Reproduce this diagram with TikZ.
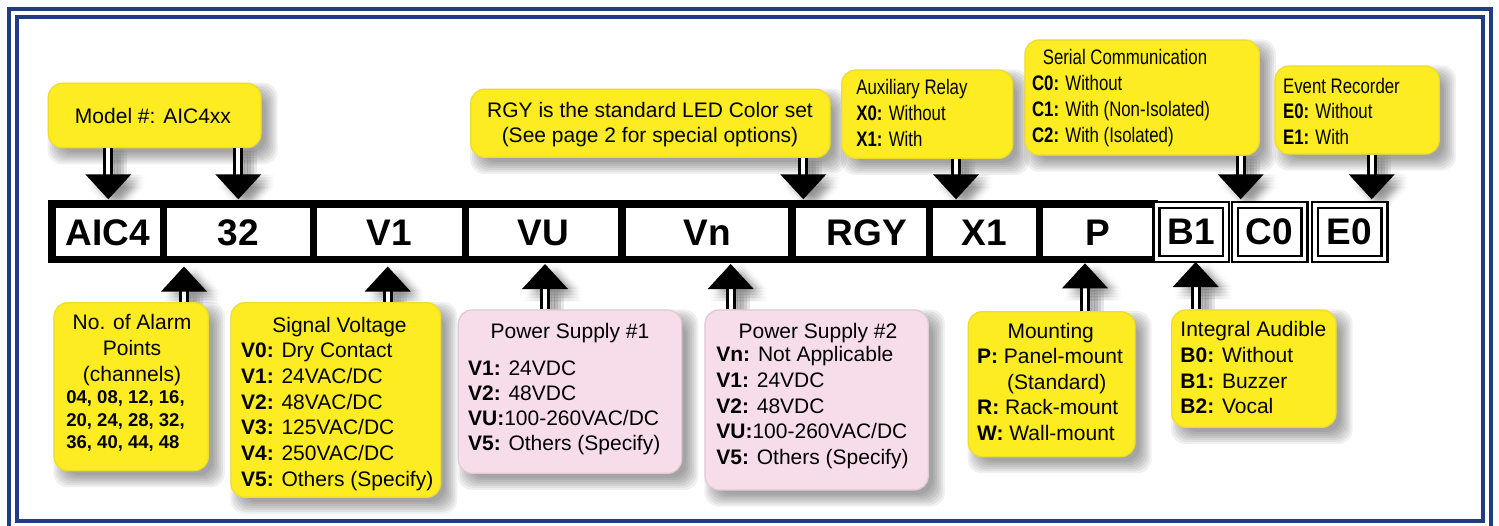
\documentclass[tikz,border=0pt]{standalone}
\usepackage{fontspec}
\setmainfont{Liberation Sans}
\newfontfamily\narrowfont[FakeStretch=0.8]{Liberation Sans}
\usetikzlibrary{calc,fit}
\definecolor{frameblue}{RGB}{31,61,128}
\definecolor{cyellow}{RGB}{253,236,33}
\definecolor{cyellowedge}{RGB}{238,220,45}
\definecolor{cpink}{RGB}{246,221,233}
\definecolor{cpinkedge}{RGB}{224,200,213}
\pgfdeclarelayer{paper}
\pgfdeclarelayer{bg}
\pgfsetlayers{paper,bg,main}
\tikzset{
  ybox/.style={draw=cyellowedge, line width=0.6pt, fill=cyellow, rounded corners=7pt, inner sep=0pt},
  pbox/.style={draw=cpinkedge, line width=0.6pt, fill=cpink, rounded corners=7pt, inner sep=0pt},
  txt/.style={inner sep=0pt, font=\fontsize{10.5}{12.9}\selectfont, align=left},
  ttl/.style={inner sep=0pt, font=\fontsize{10.5}{12.9}\selectfont, align=center},
  ntxt/.style={inner sep=0pt, font=\narrowfont\fontsize{10.5}{12.9}\selectfont, align=left},
  numtxt/.style={inner sep=0pt, font=\bfseries\fontsize{9.25}{11.25}\selectfont, align=left},
  cell/.style={fill=white, inner sep=0pt, minimum height=24pt, font=\bfseries\fontsize{18.5}{20}\selectfont, text height=13.2pt, text depth=0pt},
  dcell/.style={fill=white, draw=black, double=white, line width=1.25pt, double distance=1.75pt, inner sep=0pt, minimum width=34.75pt, minimum height=27pt, font=\bfseries\fontsize{18.5}{20}\selectfont, text height=13.2pt, text depth=0pt},
  shaft/.style={draw=black, double=white, line width=1.5pt, double distance=2pt},
  headfill/.style={fill=black},
  frameline/.style={draw=frameblue, line width=2pt},
}
\newcommand\boxshadow[1]{%
  \begin{pgfonlayer}{bg}
  \foreach \g in {-4,-2,...,8}{%
    \fill[black, opacity=0.06, rounded corners=7pt]
      ($(#1.south west)+(8-\g,8+\g)$) rectangle ($(#1.north east)+(8+\g,8-\g)$);}
  \end{pgfonlayer}}
\newcommand\downarr[2]{%
  \draw[shaft] (#1.south -| #2) -- ($(#2)+(0,-24)$);
  \fill[headfill] (#2) -- ($(#2)+(-23,-25)$) -- ($(#2)+(23,-25)$) -- cycle;
  \begin{pgfonlayer}{bg}
  \foreach \dx in {2,5,...,14}{\foreach \dy in {0,3,...,12}{%
    \fill[black, opacity=0.02] ($(#2)+(\dx,\dy)$) -- ($(#2)+(\dx-23,\dy-25)$) -- ($(#2)+(\dx+23,\dy-25)$) -- cycle;
    \fill[black, opacity=0.02] ($(#1.south -| #2)+(\dx-5,\dy)$) rectangle ($(#2)+(\dx+5,\dy-24)$);}}
  \end{pgfonlayer}}
\newcommand\uparr[2]{%
  \draw[shaft] (#1.north -| #2) -- ($(#2)+(0,24)$);
  \fill[headfill] (#2) -- ($(#2)+(-23,25)$) -- ($(#2)+(23,25)$) -- cycle;
  \begin{pgfonlayer}{bg}
  \foreach \dx in {2,5,...,14}{\foreach \dy in {0,3,...,12}{%
    \fill[black, opacity=0.02] ($(#2)+(\dx,\dy)$) -- ($(#2)+(\dx-23,\dy+25)$) -- ($(#2)+(\dx+23,\dy+25)$) -- cycle;
    \fill[black, opacity=0.02] ($(#1.north -| #2)+(\dx-5,\dy)$) rectangle ($(#2)+(\dx+5,\dy+24)$);}}
  \end{pgfonlayer}}
\begin{document}
\begin{tikzpicture}[x=0.5pt, y=-0.5pt]
\useasboundingbox (0,0) rectangle (1499,525);
\begin{pgfonlayer}{paper}
\fill[white] (0,0) rectangle (1499,525);
\end{pgfonlayer}
% frame
\draw[frameline] (9,9) rectangle (1491,529);
\draw[frameline] (17,17) rectangle (1483,521);

% code bar
\node[fill=black, inner sep=0pt, fit={(48,200) (1158,263)}] (bar) {};
\node[cell, minimum width=52pt]   (cA)   at (108,232)   {AIC4};
\node[cell, minimum width=71.5pt] (c32)  at (238.5,232) {32};
\node[cell, minimum width=72.5pt] (cV1)  at (389.5,232) {V1};
\node[cell, minimum width=74.5pt] (cVU)  at (543.5,232) {VU};
\node[cell, minimum width=81pt]   (cVn)  at (707,232)   {Vn};
\node[cell, minimum width=65pt]   (cRGY) at (861,232)   {\hspace*{6pt}RGY};
\node[cell, minimum width=51.5pt] (cX1)  at (984.5,232) {X1};
\node[cell, minimum width=54.5pt] (cP)   at (1097.5,232) {P};
\node[dcell] (cB1) at (1191,231.75)   {B1};
\node[dcell] (cC0) at (1269.5,231.75) {C0};
\node[dcell] (cE0) at (1349.5,231.75) {E0};

% upper callouts
\node[ybox, fit={(48.3,83.3) (261,147.7)}] (model) {};
\node[ttl, anchor=north] (modelt) at (153,107.5) {Model \#: AIC4xx};
\boxshadow{model}

\node[ybox, fit={(470.7,89.3) (830,157.3)}] (rgy) {};
\node[ttl, anchor=north, font=\fontsize{10.5}{12.2}\selectfont] (rgyt) at (650,102.2)
  {RGY is the standard LED Color set\\(See page 2 for special options)};
\boxshadow{rgy}

\node[ybox, fit={(841.7,70) (1012.7,158.3)}] (aux) {};
\node[ntxt, anchor=north west] (auxt) at (856,79.2)
  {Auxiliary Relay\\\textbf{X0:} Without\\\textbf{X1:} With};
\boxshadow{aux}

\node[ybox, fit={(1025,40) (1259.3,155)}] (ser) {};
\node[ntxt, anchor=north] (sertt) at (1125,49.2) {Serial Communication};
\node[ntxt, anchor=north west] (sert) at (1031.7,74.8)
  {\textbf{C0:} Without\\\textbf{C1:} With (Non-Isolated)\\\textbf{C2:} With (Isolated)};
\boxshadow{ser}

\node[ybox, fit={(1275,66) (1439.3,154)}] (evt) {};
\node[ntxt, anchor=north west] (evtt) at (1282.7,77.5)
  {Event Recorder\\\textbf{E0:} Without\\\textbf{E1:} With};
\boxshadow{evt}

% lower callouts
\node[ybox, fit={(54,302.7) (208.3,470.7)}] (alarm) {};
\node[ttl, anchor=north] (alarmt) at (132,314.2) {No. of Alarm\\Points\\(channels)};
\node[numtxt, anchor=north west] (alarmn) at (66,390.4)
  {04, 08, 12, 16,\\20, 24, 28, 32,\\36, 40, 44, 48};
\boxshadow{alarm}

\node[ybox, fit={(231,302.7) (440.7,497.3)}] (sig) {};
\node[ttl, anchor=north] (sigtt) at (339.5,316.5) {Signal Voltage};
\node[txt, anchor=north west] (sigt) at (240.7,342.5)
  {\textbf{V0:} Dry Contact\\\textbf{V1:} 24VAC/DC\\\textbf{V2:} 48VAC/DC\\\textbf{V3:} 125VAC/DC\\\textbf{V4:} 250VAC/DC\\\textbf{V5:} Others (Specify)};
\boxshadow{sig}

\node[pbox, fit={(458.3,310) (681.7,473.3)}] (ps1) {};
\node[ttl, anchor=north] (ps1tt) at (570,322.5) {Power Supply \#1};
\node[txt, anchor=north west, font=\fontsize{10.5}{12.5}\selectfont] (ps1t) at (467.7,360.8)
  {\textbf{V1:} 24VDC\\\textbf{V2:} 48VDC\\\textbf{VU:}100-260VAC/DC\\\textbf{V5:} Others (Specify)};
\boxshadow{ps1}

\node[pbox, fit={(705,310) (928.3,490)}] (ps2) {};
\node[ttl, anchor=north] (ps2tt) at (818,322.5) {Power Supply \#2};
\node[txt, anchor=north west] (ps2t) at (716,345.8)
  {\textbf{Vn:} Not Applicable\\\textbf{V1:} 24VDC\\\textbf{V2:} 48VDC\\\textbf{VU:}100-260VAC/DC\\\textbf{V5:} Others (Specify)};
\boxshadow{ps2}

\node[ybox, fit={(968.3,311.7) (1135,456.7)}] (mnt) {};
\node[ttl, anchor=north] (mnttt) at (1050.7,322.5) {Mounting};
\node[txt, anchor=north west, font=\fontsize{10.5}{12.7}\selectfont] (mntt) at (976.7,348.2)
  {\textbf{P:} Panel-mount\\\hspace*{15pt}(Standard)\\\textbf{R:} Rack-mount\\\textbf{W:} Wall-mount};
\boxshadow{mnt}

\node[ybox, fit={(1171.7,310) (1336,427.3)}] (aud) {};
\node[txt, anchor=north west] (audt) at (1180,320.8)
  {Integral Audible\\\textbf{B0:} Without\\\textbf{B1:} Buzzer\\\textbf{B2:} Vocal};
\boxshadow{aud}

% arrows (tips)
\coordinate (tA)   at (108.3,199.3);
\coordinate (t32)  at (238.3,199.3);
\coordinate (tRGY) at (803.3,199.3);
\coordinate (tX1)  at (956,199.3);
\coordinate (tC0)  at (1240.7,199.3);
\coordinate (tE0)  at (1371.7,199.3);
\coordinate (u32)  at (184,266.5);
\coordinate (uV1)  at (387.7,266.5);
\coordinate (uVU)  at (545,264);
\coordinate (uVn)  at (730.7,264);
\coordinate (uP)   at (1085,263.3);
\coordinate (uB1)  at (1195.7,262);

\downarr{model}{tA}
\downarr{model}{t32}
\downarr{rgy}{tRGY}
\downarr{aux}{tX1}
\downarr{ser}{tC0}
\downarr{evt}{tE0}
\uparr{alarm}{u32}
\uparr{sig}{uV1}
\uparr{ps1}{uVU}
\uparr{ps2}{uVn}
\uparr{mnt}{uP}
\uparr{aud}{uB1}
\end{tikzpicture}
\end{document}
